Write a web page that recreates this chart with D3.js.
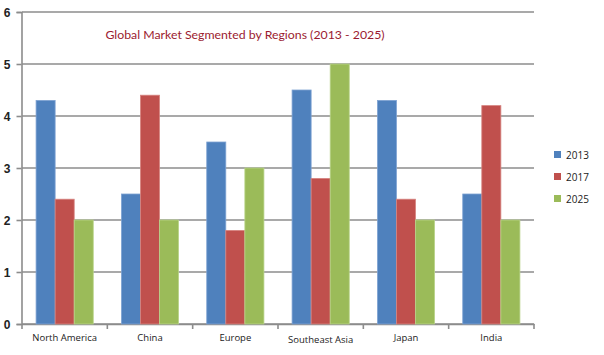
<!DOCTYPE html>
<html><head><meta charset="utf-8">
<script src="https://cdn.jsdelivr.net/npm/d3@7"></script>
<style>html,body{margin:0;padding:0;background:#fff;}svg{display:block;}</style>
</head><body>
<script>
const categories = ["North America","China","Europe","Southeast Asia","Japan","India"];
const seriesNames = ["2013","2017","2025"];
const values2013 = [4.3,2.5,3.5,4.5,4.3,2.5];
const values2017 = [2.4,4.4,1.8,2.8,2.4,4.2];
const values2025 = [2.0,2.0,3.0,5.0,2.0,2.0];
const yTicks = [0,1,2,3,4,5,6];
const colors = ["#4f81bd","#c0504d","#9bbb59"];
const strokes = ["#7fa3d3","#d68481","#b9d48a"];
const title = "Global Market Segmented by Regions (2013 - 2025)";

const W=604,H=355;
const svg=d3.select("body").append("svg").attr("width",W).attr("height",H);
const x0=d3.scaleBand().domain(categories).range([22,534]).paddingInner(0.33).paddingOuter(0.165);
const x1=d3.scaleBand().domain(seriesNames).range([0,x0.bandwidth()]);
const xCat=d3.scaleBand().domain(categories).range([22,534]);
const y=d3.scaleLinear().domain([0,6]).range([324,12]);

// gridlines
svg.append("g").selectAll("line").data(yTicks).join("line")
  .attr("x1",22).attr("x2",534).attr("y1",d=>y(d)).attr("y2",d=>y(d))
  .attr("stroke","#8c8c8c").attr("stroke-width",1.6);

// y axis
const ya=svg.append("g").attr("transform","translate(21.5,0)")
  .call(d3.axisLeft(y).tickValues(yTicks).tickSize(5).tickPadding(6).tickFormat(d3.format("d")));
ya.select(".domain").attr("stroke","#8c8c8c").attr("stroke-width",1.6);
ya.selectAll(".tick line").attr("stroke","#8c8c8c").attr("stroke-width",1.6);
ya.selectAll("text").attr("font-family","'Liberation Sans',Arial,sans-serif").attr("font-size",12).attr("fill","#222").attr("font-weight","bold").attr("dy","0.36em");

// x axis
const xa=svg.append("g").attr("transform","translate(0,324)")
  .call(d3.axisBottom(xCat).tickSize(0).tickPadding(10));
xa.select(".domain").attr("stroke","#8c8c8c").attr("stroke-width",1.6);
xa.selectAll("text").attr("font-family","'Open Sans',sans-serif").attr("font-size",9.5).attr("fill","#222");
xa.selectAll(".tick").filter(d=>d==="Southeast Asia").select("text").attr("dy","0.95em");
// category boundary ticks
svg.append("g").selectAll("line").data(categories.concat(["_end"])).join("line")
  .attr("x1",(d,i)=>22+i*xCat.step()).attr("x2",(d,i)=>22+i*xCat.step())
  .attr("y1",324).attr("y2",329).attr("stroke","#8c8c8c").attr("stroke-width",1.6);

// bars
const allSeries=[values2013,values2017,values2025];
const rows=categories.map((c,i)=>({cat:c,vals:seriesNames.map((s,j)=>({s,j,v:allSeries[j][i]}))}));
svg.append("g").selectAll("g").data(rows).join("g")
  .attr("transform",d=>`translate(${x0(d.cat)},0)`)
  .selectAll("rect").data(d=>d.vals).join("rect")
  .attr("x",d=>x1(d.s)).attr("width",x1.bandwidth())
  .attr("y",d=>y(d.v)).attr("height",d=>y(0)-y(d.v))
  .attr("fill",d=>colors[d.j]).attr("stroke",d=>strokes[d.j]).attr("stroke-width",0.8);

// title
svg.append("text").attr("x",245).attr("y",39).attr("text-anchor","middle")
  .attr("font-family","Lato,'Open Sans',sans-serif").attr("font-size",12.3).attr("fill","#9b1b30")
  .text(title);

// legend
const leg=svg.append("g").selectAll("g").data(seriesNames).join("g")
  .attr("transform",(d,i)=>`translate(554,${155+i*22})`);
leg.append("rect").attr("x",0).attr("y",-4).attr("width",7).attr("height",7).attr("fill",(d,i)=>colors[i]);
leg.append("text").attr("x",12).attr("y",0).attr("dy","0.35em")
  .attr("font-family","'Open Sans',sans-serif").attr("font-size",10).attr("fill","#222").text(d=>d);
</script>
</body></html>
